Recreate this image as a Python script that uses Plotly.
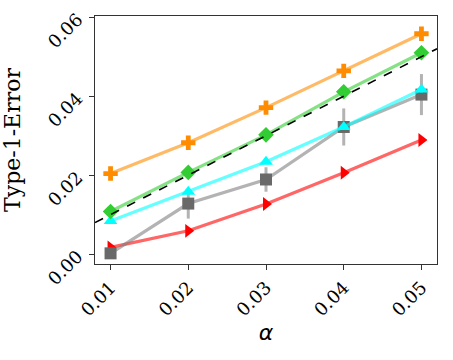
import plotly.graph_objects as go

alpha = [0.01, 0.02, 0.03, 0.04, 0.05]

orange_y = [0.0204, 0.0282, 0.0371, 0.0464, 0.0558]
orange_err = [0.0008, 0.0008, 0.0008, 0.0009, 0.0012]
green_y = [0.0108, 0.0207, 0.0302, 0.0411, 0.0510]
green_err = [0.0005, 0.0006, 0.0006, 0.0007, 0.0008]
cyan_y = [0.0084, 0.0158, 0.0234, 0.0322, 0.0417]
cyan_err = [0.0004, 0.0005, 0.0006, 0.0007, 0.0008]
gray_y = [0.0002, 0.0128, 0.0189, 0.0322, 0.0404]
gray_err = [0.0004, 0.0038, 0.0031, 0.0047, 0.0052]
red_y = [0.0017, 0.0059, 0.0127, 0.0206, 0.0289]
red_err = [0.0003, 0.0004, 0.0004, 0.0005, 0.0006]

ref_x = [0.008, 0.052]

series = [
    # name, y, err, marker colour, line colour, symbol
    ('red', red_y, red_err, '#ff0000', 'rgba(255,0,0,0.6)', 'triangle-right'),
    ('gray', gray_y, gray_err, '#696969', 'rgba(128,128,128,0.6)', 'square'),
    ('cyan', cyan_y, cyan_err, '#00ffff', 'rgba(0,255,255,0.6)', 'triangle-up'),
    ('green', green_y, green_err, '#32cd32', 'rgba(50,205,50,0.6)', 'diamond'),
    ('orange', orange_y, orange_err, '#ff8c00', 'rgba(255,140,0,0.6)', 'cross'),
]

fig = go.Figure()
for name, y, err, mc, lc, sym in series:
    fig.add_trace(go.Scatter(
        x=alpha, y=y, mode='lines+markers', name=name,
        line=dict(color=lc, width=3.2),
        marker=dict(color=mc, symbol=sym, size=12, line=dict(width=0)),
        error_y=dict(type='data', array=err, color=lc, thickness=3, width=0),
    ))
    if name == 'green':
        fig.add_trace(go.Scatter(
            x=ref_x, y=ref_x, mode='lines', name='y=x',
            line=dict(color='black', width=1.6, dash='dash'),
        ))

axis_font = dict(family='DejaVu Serif', size=18, color='black')
fig.update_layout(
    width=453, height=360,
    margin=dict(l=95, r=16, t=16, b=96),
    paper_bgcolor='white', plot_bgcolor='white',
    showlegend=False,
    xaxis=dict(
        range=[0.008, 0.052], tickvals=alpha, ticktext=['0.01', '0.02', '0.03', '0.04', '0.05'],
        tickangle=-45, tickfont=axis_font, ticks='outside', ticklen=5, tickcolor='#333',
        showgrid=False, zeroline=False, showline=True, linecolor='#333', linewidth=1, mirror=True,
        automargin=False,
        title=dict(text='<i>α</i>', font=dict(family='DejaVu Sans', size=22, color='black'), standoff=2),
    ),
    yaxis=dict(
        range=[-0.0025, 0.0603], tickvals=[0.0, 0.02, 0.04, 0.06],
        ticktext=['0.00', '0.02', '0.04', '0.06'],
        tickangle=-45, tickfont=axis_font, ticks='outside', ticklen=5, tickcolor='#333',
        ticklabelstandoff=8,
        showgrid=False, zeroline=False, showline=True, linecolor='#333', linewidth=1, mirror=True,
        automargin=False,
        title=dict(text='Type-1-Error', font=dict(family='DejaVu Serif', size=22, color='black'), standoff=18),
    ),
)

# drop the browser's default body margin so the figure sits at (0, 0)
fig.write_html('out.html', config={'displayModeBar': False},
               post_script="document.body.style.margin='0px';")
